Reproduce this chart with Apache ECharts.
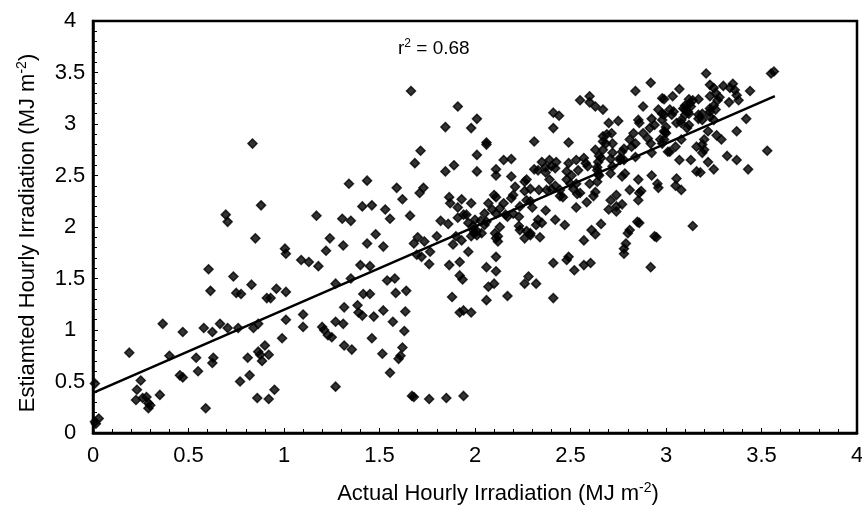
<!DOCTYPE html>
<html>
<head>
<meta charset="utf-8">
<script src="https://cdn.jsdelivr.net/npm/echarts@6/dist/echarts.min.js"></script>
<style>html,body{margin:0;padding:0;background:#fff}#c{width:862px;height:514px}</style>
</head>
<body>
<div id="c"></div>
<script>
// Axis ticks
const tickValues = [0, 0.5, 1, 1.5, 2, 2.5, 3, 3.5, 4];

// Observed points: [actual, estimated] (MJ m-2)
const pointsLow = [
[0.01,0.48],[0.01,0.11],[0.03,0.14],[0.015,0.09],[0.19,0.78],[0.23,0.42],[0.25,0.51],[0.225,0.32],
[0.26,0.34],[0.28,0.35],[0.29,0.29],[0.29,0.24],[0.30,0.27],[0.35,0.37],[0.365,1.06],[0.40,0.75],
[0.455,0.56],[0.47,0.54],[0.47,0.98],[0.54,0.73],[0.55,0.60],[0.58,1.02],[0.59,0.24],[0.605,1.59],
[0.615,1.38],[0.625,0.98],[0.63,0.73],[0.625,0.68],[0.665,1.06],[0.695,2.12],[0.705,2.05],[0.705,1.02],
[0.735,1.52],[0.75,1.36],[0.775,1.35],[0.76,1.02],[0.77,0.50],[0.81,0.73],[0.82,0.56],[0.835,2.81],
[0.83,1.44],[0.84,1.02],[0.865,1.06],[0.85,1.89],[0.88,2.21],[0.86,0.34],[0.865,0.79],[0.875,0.76],
[0.885,0.70],[0.90,0.85],[0.91,1.31],[0.93,1.31],[0.92,0.76],[0.92,0.33],[0.95,0.42],[0.96,1.40],
[0.99,0.92],[1.005,1.79],[1.01,1.74],[1.01,1.37],[1.01,1.10]
];
const pointsMid = [
[1.17,2.11],[1.09,1.68],[1.13,1.66],[1.18,1.62],[1.10,1.15],[1.10,1.03],[1.24,1.89],[1.22,1.77],
[1.27,1.45],[1.20,1.03],[1.21,1.00],[1.23,0.95],[1.25,0.93],[1.27,1.08],[1.27,0.45],[1.305,2.08],
[1.31,1.82],[1.315,1.22],[1.31,1.06],[1.315,0.85],[1.34,2.42],[1.35,2.06],[1.35,1.50],[1.355,0.81],
[1.385,1.24],[1.39,1.17],[1.41,1.14],[1.40,1.63],[1.41,2.20],[1.415,1.35],[1.45,1.35],[1.435,2.45],
[1.435,1.84],[1.45,1.62],[1.46,2.21],[1.48,1.93],[1.47,1.13],[1.46,0.92],[1.52,1.81],[1.52,1.19],
[1.515,0.77],[1.53,2.17],[1.555,2.08],[1.54,1.48],[1.555,0.585],[1.57,1.08],[1.58,1.50],[1.585,1.36],
[1.59,2.38],[1.61,0.75],[1.60,0.72],[1.62,2.27],[1.62,0.83],[1.63,0.99],[1.635,1.18],[1.64,1.38],
[1.66,2.11],[1.665,3.32],[1.68,0.35],[1.67,0.36],[1.685,2.62],[1.68,1.84],[1.70,1.90],[1.695,1.73],
[1.715,2.74],[1.71,2.33],[1.73,2.38],[1.72,1.71],[1.735,1.86],[1.76,0.33],[1.765,1.76],[1.76,1.64],
[1.80,1.91],[1.82,2.06],[1.845,2.97],[1.845,2.54],[1.85,0.34],[1.86,2.03],[1.865,2.29],[1.87,2.23],
[1.865,1.63],[1.88,1.32],[1.885,1.83],[1.89,2.60],[1.91,3.17],[1.90,1.91],[1.91,2.19],[1.92,1.66],
[1.92,1.53],[1.935,1.49],[1.91,2.09],[1.93,2.27],[1.92,1.17],[1.94,1.19],[1.94,0.36],[1.93,1.87],
[1.965,1.76],[1.955,2.12],[1.98,1.17],[1.98,2.23],[1.98,2.96],[2.01,3.05],[2.01,2.70],[2.01,2.54],
[1.99,2.01],[1.995,1.94],[2.01,1.92],[1.94,2.12],[2.00,2.07],[1.965,2.04],[1.99,1.97],[1.98,1.91],
[2.035,1.94],[2.05,2.02],[2.06,2.05]
];
const pointsHigh = [
[2.06,2.82],[2.06,2.80],[2.15,2.65],[2.19,2.66],[2.11,2.56],[2.11,2.50],[2.19,2.49],[2.31,2.83],
[2.41,3.11],[2.44,3.08],[2.41,2.96],[2.49,2.82],[2.55,3.23],[2.60,3.27],[2.60,3.21],[2.63,3.17],
[2.67,3.14],[2.70,3.01],[2.75,3.03],[2.84,3.32],[2.92,3.40],[2.88,3.17],[2.98,3.25],[2.98,3.10],
[2.855,3.04],[2.86,3.01],[2.925,3.05],[2.94,2.99],[2.88,2.91],[2.99,2.93],[2.83,2.91],[2.81,2.85],
[2.84,2.81],[2.69,2.90],[2.67,2.88],[2.715,2.91],[2.72,2.81],[2.685,2.81],[2.67,2.75],[2.63,2.75],
[2.78,2.76],[2.77,2.73],[2.65,2.69],[2.71,2.66],[2.76,2.65],[2.78,2.65],[2.84,2.68],[2.925,2.72],
[2.98,2.81],[3.01,2.73],[2.925,2.50],[2.855,2.46],[2.81,2.36],[2.87,2.35],[2.855,2.26],[2.955,2.42],
[2.96,2.38],[2.77,2.49],[2.785,2.52],[2.72,2.59],[2.64,2.58],[2.645,2.51],[2.64,2.44],[2.60,2.42],
[2.57,2.67],[2.53,2.65],[2.58,2.62],[2.54,2.55],[2.49,2.62],[2.48,2.54],[2.505,2.50],[2.48,2.46],
[2.50,2.42],[2.53,2.42],[2.39,2.65],[2.425,2.63],[2.40,2.59],[2.35,2.63],[2.33,2.55],[2.31,2.56],
[2.37,2.58],[2.37,2.53],[2.42,2.57],[2.39,2.46],[2.27,2.46],[2.26,2.44],[2.335,2.36],[2.40,2.37],
[2.46,2.29],[2.535,2.32],[2.585,2.24],[2.53,2.19],[2.63,2.34],[2.62,2.30],[2.71,2.26],[2.74,2.31],
[2.70,2.17],[2.74,2.20],[2.77,2.22],[2.74,2.15],[2.30,2.19],[2.37,2.16],[2.42,2.07],[2.47,2.02],
[2.33,2.07],[2.35,2.04],[2.32,2.02],[2.27,1.96],[2.29,1.92],[2.34,1.90],[2.23,2.01],[2.20,2.13],
[2.23,2.10],[2.17,2.10],[2.16,2.12],[2.20,2.31],[2.19,2.28],[2.15,2.23],[2.11,2.29],[2.10,2.31],
[2.13,2.18],[2.11,2.13],[2.07,2.23],[2.09,2.17],[2.05,2.13],[2.03,2.06],[2.01,1.96],[2.13,2.00],
[2.12,1.91],[2.12,1.86],[2.11,1.71],[2.06,1.61],[2.11,1.57],[2.07,1.42],[2.10,1.45],[2.06,1.29],
[2.17,1.33],[2.26,1.45],[2.28,1.52],[2.32,1.45],[2.41,1.65],[2.41,1.31],[2.48,1.68],[2.52,1.58],
[2.57,1.63],[2.605,1.65],[2.57,1.87],[2.61,1.97],[2.63,1.93],[2.66,2.03],[2.78,1.74],[2.78,1.79],
[2.79,1.84],[2.80,1.94],[2.81,1.97],[2.85,2.05],[2.86,2.04],[2.94,1.91],[2.92,1.61],[2.235,2.20],
[2.27,2.26],[2.29,2.25],[2.21,2.39],[2.26,2.35],[2.29,2.37],[2.375,2.36],[2.42,2.40],[2.445,2.36],
[2.515,2.37],[2.445,2.30],[2.235,1.97],[2.29,1.94],[2.26,1.89],[2.49,1.71],[2.105,1.94],[2.11,1.89],
[2.96,3.14],[3.02,3.14],[3.00,2.91],[2.915,2.96],[2.905,2.86],[2.92,2.81],[2.67,2.83],[2.72,2.72],
[2.82,2.78],[2.59,2.59],[2.645,2.63],[2.66,2.67],[2.76,2.67],[2.64,2.55],[2.65,2.50],[2.71,2.52],
[2.86,2.33],[2.55,2.33]
];
const pointsTop = [
[3.25,3.35],[3.27,3.23],[3.26,3.14],[3.23,3.12],[3.14,3.23],[3.125,3.20],[3.09,3.15],[3.115,3.12],
[3.10,3.09],[3.08,3.04],[3.19,3.04],
[3.21,3.49],[3.55,3.49],[3.565,3.51],[3.23,3.38],[3.30,3.37],[3.35,3.39],[3.335,3.35],[3.36,3.33],
[3.37,3.28],[3.38,3.23],[3.44,3.32],[3.07,3.34],[3.035,3.27],[2.99,3.24],[3.12,3.24],[3.17,3.24],
[3.23,3.27],[3.26,3.30],[3.28,3.26],[3.33,3.21],[3.25,3.18],[3.23,3.15],[3.10,3.18],[3.13,3.17],
[3.10,3.14],[3.12,3.10],[3.04,3.12],[3.03,3.09],[2.99,3.09],[2.98,3.04],[3.055,3.01],[3.08,3.01],
[3.17,3.09],[3.19,3.10],[3.17,3.05],[3.23,3.07],[3.25,3.04],[3.00,2.97],[2.995,2.92],[3.11,2.96],
[3.12,2.99],[2.99,2.85],[2.97,2.85],[3.08,2.85],[3.05,2.78],[3.02,2.73],[3.22,2.93],[3.265,2.89],
[3.29,2.85],[3.37,2.93],[3.42,3.05],[3.20,2.85],[3.19,2.80],[3.16,2.78],[3.20,2.75],[3.19,2.72],
[3.32,2.69],[3.37,2.65],[3.43,2.56],[3.53,2.74],[3.07,2.65],[3.13,2.65],[3.22,2.63],[3.25,2.56],
[3.16,2.54],[3.18,2.53],[3.055,2.47],[3.05,2.40],[3.08,2.36],[3.14,2.01],[2.95,1.90]
];

// Fitted regression line endpoints
const fitX = [0, 3.57];
const fitY = [0.39, 3.27];
const rSquared = '0.68';

const points = pointsLow.concat(pointsMid, pointsHigh, pointsTop);
const fitLine = fitX.map((x, i) => [x, fitY[i]]);

const FONT = '"Liberation Sans", Arial, Helvetica, sans-serif';
const chart = echarts.init(document.getElementById('c'), null, {renderer: 'canvas'});

function axisCommon(namePadding) {
  return {
    type: 'value',
    min: tickValues[0],
    max: tickValues[tickValues.length - 1],
    interval: 0.5,
    splitLine: {show: false},
    axisLine: {show: true, onZero: false, lineStyle: {color: '#000', width: 2.5}},
    axisTick: {show: true, inside: true, length: 5, lineStyle: {color: '#000', width: 1}},
    minorTick: {show: true, splitNumber: 5, length: 4, lineStyle: {color: '#000', width: 1}},
    axisLabel: {color: '#000', fontSize: 22, fontFamily: FONT},
    nameLocation: 'middle',
    nameTextStyle: {
      color: '#000', fontSize: 22, fontFamily: FONT, padding: namePadding,
      rich: {sup: {color: '#000', fontSize: 14, fontFamily: FONT, padding: [0, 0, 12, 0]}}
    }
  };
}

const xAxis = Object.assign(axisCommon([0, 0, 0, 46]), {
  name: 'Actual Hourly Irradiation (MJ m{sup|-2})',
  nameGap: 48
});
xAxis.axisLabel = Object.assign({}, xAxis.axisLabel, {margin: 12});

const yAxis = Object.assign(axisCommon([0, 12, 0, 0]), {
  name: 'Estiamted Hourly Irradiation (MJ m{sup|-2})',
  nameGap: 52
});
yAxis.axisLabel = Object.assign({}, yAxis.axisLabel, {margin: 23, align: 'center'});

chart.setOption({
  animation: false,
  backgroundColor: '#fff',
  grid: {
    left: 93, right: 5, top: 21, bottom: 81,
    show: true, borderColor: '#000', borderWidth: 2.5,
    outerBoundsMode: 'none'
  },
  xAxis: xAxis,
  yAxis: yAxis,
  graphic: [{
    type: 'text',
    left: 398,
    top: 38,
    style: {
      text: 'r{sup|2} = ' + rSquared,
      fill: '#000',
      font: '19px ' + FONT,
      rich: {sup: {fill: '#000', fontSize: 12, fontFamily: FONT, padding: [0, 0, 10, 0]}}
    }
  }],
  series: [
    {
      type: 'scatter',
      data: points,
      symbol: 'diamond',
      symbolSize: 9,
      itemStyle: {color: '#000', borderColor: '#000', borderWidth: 1.5},
      z: 3
    },
    {
      type: 'line',
      data: fitLine,
      symbol: 'none',
      lineStyle: {color: '#000', width: 2.5},
      z: 4
    }
  ]
});
</script>
</body>
</html>
